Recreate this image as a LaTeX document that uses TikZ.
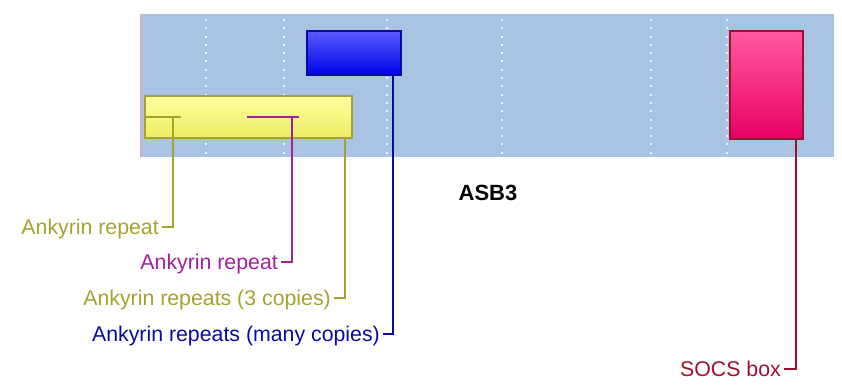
\documentclass[tikz,border=0pt]{standalone}
\usepackage{fontspec}
\setmainfont{Liberation Sans}
\definecolor{panel}{HTML}{A8C4E2}
\definecolor{olive}{HTML}{A3A32E}
\definecolor{magen}{HTML}{A020A0}
\definecolor{navy}{HTML}{0A0AA0}
\definecolor{wine}{HTML}{A0102E}
\definecolor{dotc}{HTML}{F2F6FB}
\tikzset{
  dom/.style={draw, line width=1.6pt, inner sep=0pt},
  conn/.style={line width=1.6pt},
  lab/.style={font=\fontsize{21.3}{25}\selectfont, inner sep=0pt, anchor=base east},
}
\begin{document}
\begin{tikzpicture}[x=1pt,y=-1pt]
\useasboundingbox (0,0) rectangle (842,390);
% panel
\fill[panel] (140,14) rectangle (834,157);
\draw[color={rgb,255:red,240;green,160;blue,160}, line width=1pt] (140,14) -- (140,157);
% dotted grid
\foreach \gx in {206,284,387,502,651,727}{
  \foreach \k in {0,...,16}{
    \fill[dotc] (\gx-1,{20+8.3*\k-1}) rectangle (\gx+1,{20+8.3*\k+1});
  }
}
% domains
\node[dom, draw=navy, top color={rgb,255:red,90;green,90;blue,255}, bottom color={rgb,255:red,0;green,0;blue,230}, minimum width=94pt, minimum height=44pt] (blue) at (354,53) {};
\node[dom, draw=olive, top color={rgb,255:red,255;green,255;blue,160}, bottom color={rgb,255:red,236;green,236;blue,100}, minimum width=207pt, minimum height=42pt] (yel) at (248.5,117) {};
\node[dom, draw=wine, top color={rgb,255:red,255;green,90;blue,160}, bottom color={rgb,255:red,232;green,0;blue,100}, minimum width=73pt, minimum height=108pt] (pink) at (766.5,85) {};
% title
\node[font=\fontsize{22}{26}\selectfont\bfseries, inner sep=0pt] (title) at (488,193) {ASB3};
% tick end coordinates
\coordinate (t1) at (162,227);
\coordinate (t2) at (281,262);
\coordinate (t3) at (334,298);
\coordinate (t4) at (383,334);
\coordinate (t5) at (784,369);
\coordinate (v1) at (173,0);
\coordinate (v2) at (292,0);
\coordinate (v3) at (345,0);
\coordinate (v4) at (393,0);
\coordinate (v5) at (796,0);
\coordinate (h1e) at (181,117);
\coordinate (h2s) at (247,117);
\coordinate (h2e) at (299,117);
% labels
\node[lab, text=olive] (l1) at ([xshift=-3pt,yshift=-7.8pt]t1) {Ankyrin repeat};
\node[lab, text=magen] (l2) at ([xshift=-3pt,yshift=-7.8pt]t2) {Ankyrin repeat};
\node[lab, text=olive] (l3) at ([xshift=-3pt,yshift=-7.8pt]t3) {Ankyrin repeats (3 copies)};
\node[lab, text=navy] (l4) at ([xshift=-3pt,yshift=-7.8pt]t4) {Ankyrin repeats (many copies)};
\node[lab, text=wine] (l5) at ([xshift=-3pt,yshift=-7.8pt]t5) {SOCS box};
% connectors
\draw[conn, olive] (yel.west) -- (h1e);
\draw[conn, olive] (yel.center -| v1) |- (t1);
\draw[conn, magen] (h2s) -- (h2e);
\draw[conn, magen] (yel.center -| v2) |- (t2);
\draw[conn, olive] (yel.south -| v3) |- (t3);
\draw[conn, navy] (blue.south -| v4) |- (t4);
\draw[conn, wine] (pink.south -| v5) |- (t5);
\end{tikzpicture}
\end{document}
